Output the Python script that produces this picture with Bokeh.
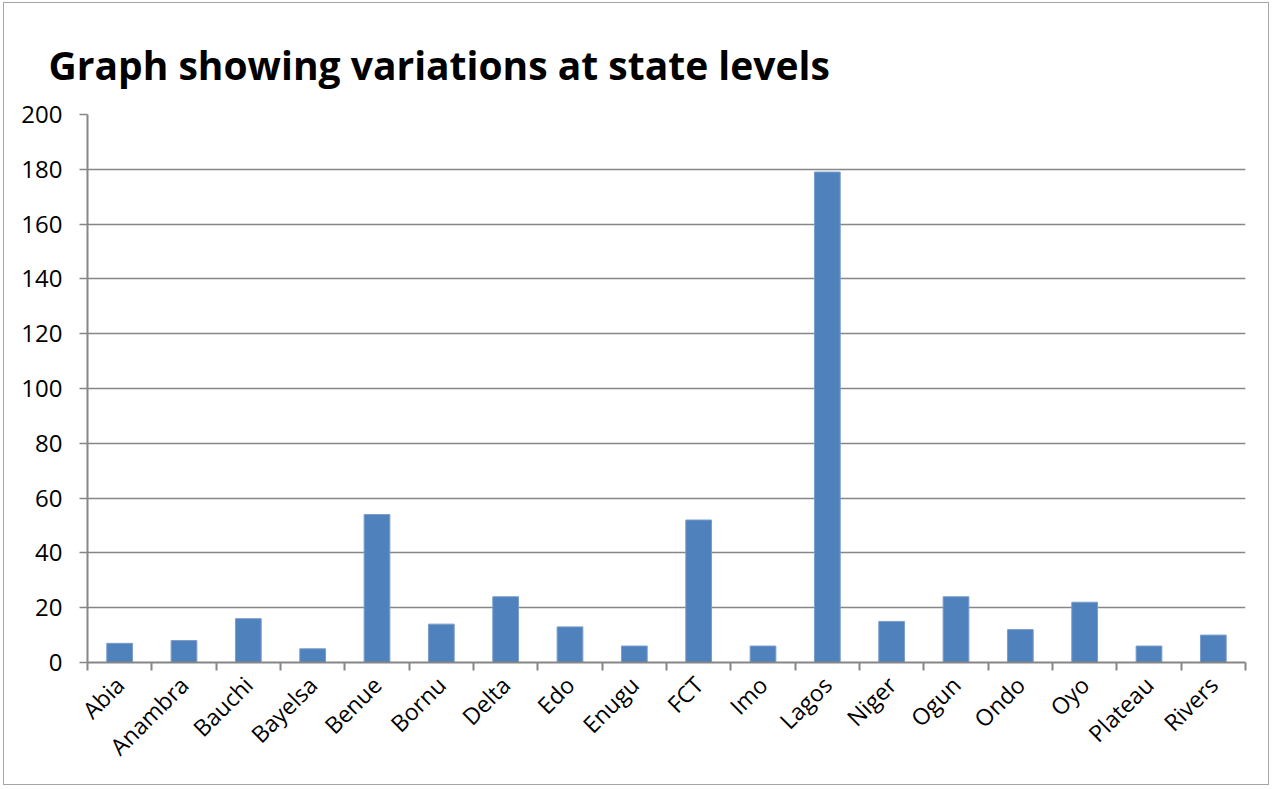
from bokeh.plotting import figure
from bokeh.models import (Range1d, LinearAxis, FixedTicker, ColumnDataSource)
from bokeh.embed import file_html
from bokeh.resources import INLINE
import math

states = ["Abia", "Anambra", "Bauchi", "Bayelsa", "Benue", "Bornu", "Delta", "Edo",
          "Enugu", "FCT", "Imo", "Lagos", "Niger", "Ogun", "Ondo", "Oyo", "Plateau", "Rivers"]
values = [7, 8, 16, 5, 54, 14, 24, 13, 6, 52, 6, 179, 15, 24, 12, 22, 6, 10]
y_ticks = [0, 20, 40, 60, 80, 100, 120, 140, 160, 180, 200]
title_text = "Graph showing variations at state levels"

GRAY = "#868686"
FONT = "Open Sans"

n = len(states)
centers = [i + 0.5 for i in range(n)]
src = ColumnDataSource(dict(x=centers, value=values, state=states))

p = figure(width=1266, height=783, x_range=Range1d(0, n),
           y_range=Range1d(0, 200), output_backend="svg", toolbar_location=None,
           x_axis_location=None, y_axis_location="left",
           min_border_left=83, min_border_right=25, min_border_top=111,
           min_border_bottom=124)
p.styles = {"margin-left": "3px", "margin-top": "2px",
            "border": "1px solid #A6A6A6"}
p.title.text = title_text
p.title.text_font = FONT
p.title.text_font_size = "39px"
p.title.text_font_style = "bold"
p.title.text_color = "black"
p.title.align = "left"
p.title.offset = -39
p.title.standoff = 48
p.outline_line_color = None
p.background_fill_color = "white"
p.border_fill_color = "white"

p.vbar(x="x", top="value", width=0.4, source=src, fill_color="#4F81BD",
       line_color="#7A9CCB", line_width=1)

# grid
p.xgrid.visible = False
p.ygrid.ticker = FixedTicker(ticks=y_ticks)
p.ygrid.grid_line_color = GRAY
p.ygrid.grid_line_width = 1.5

# y axis
ya = p.yaxis[0]
ya.ticker = FixedTicker(ticks=y_ticks)
ya.axis_line_color = GRAY
ya.axis_line_width = 2
ya.major_tick_line_color = GRAY
ya.major_tick_line_width = 1.5
ya.major_tick_out = 8
ya.major_tick_in = 0
ya.minor_tick_line_color = None
ya.major_label_text_font = FONT
ya.major_label_text_font_size = "24px"
ya.major_label_text_color = "black"
ya.major_label_standoff = 17

# boundary tick axis (category boundaries)
ba = LinearAxis(ticker=FixedTicker(ticks=list(range(n + 1))))
ba.axis_line_color = GRAY
ba.axis_line_width = 2
ba.major_tick_line_color = GRAY
ba.major_tick_line_width = 2
ba.major_tick_out = 8
ba.major_tick_in = 0
ba.minor_tick_line_color = None
ba.major_label_text_font_size = "1px"
ba.major_label_text_alpha = 0
ba.major_label_standoff = 0
p.add_layout(ba, "below")

# category labels axis
ca = LinearAxis(ticker=FixedTicker(ticks=centers),
                major_label_overrides={c: s for c, s in zip(centers, states)})
ca.axis_line_color = None
ca.major_tick_line_color = None
ca.minor_tick_line_color = None
ca.major_tick_out = 0
ca.major_tick_in = 0
ca.major_label_orientation = math.pi / 4
ca.major_label_text_font = FONT
ca.major_label_text_font_size = "23px"
ca.major_label_text_color = "black"
ca.major_label_standoff = 10
p.add_layout(ca, "below")

open("out.html", "w").write(file_html(p, INLINE))
